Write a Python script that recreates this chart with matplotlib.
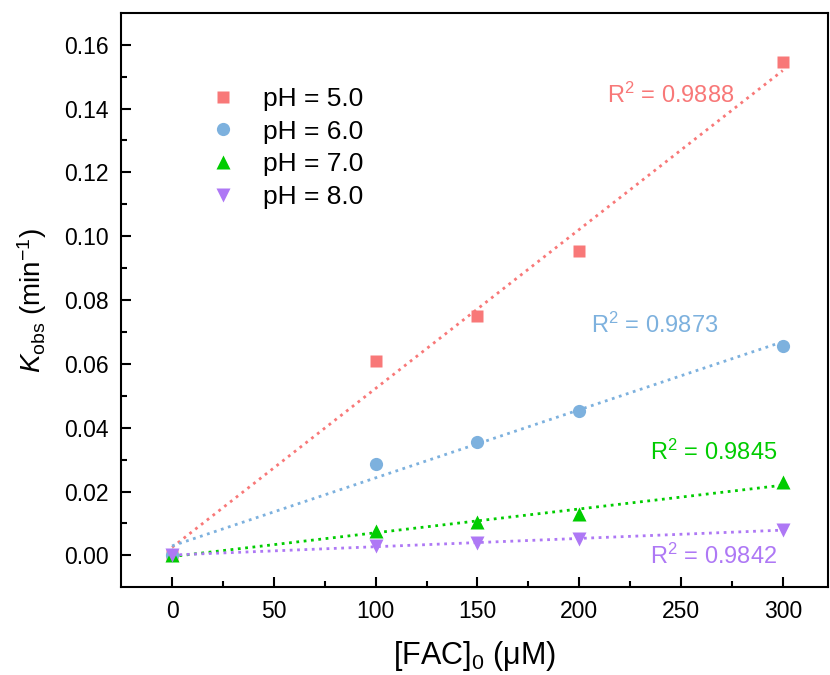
import numpy as np
import matplotlib
matplotlib.use('Agg')
import matplotlib.pyplot as plt

plt.rcParams['font.family'] = ['Liberation Sans', 'DejaVu Sans']
plt.rcParams['mathtext.fontset'] = 'custom'
plt.rcParams['mathtext.rm'] = 'Liberation Sans'
plt.rcParams['mathtext.it'] = 'Liberation Sans:italic'

# data
fac = [0, 100, 150, 200, 300]
k_ph5 = [0.0, 0.061, 0.075, 0.0955, 0.1545]
k_ph6 = [0.0, 0.0285, 0.0355, 0.0452, 0.0655]
k_ph7 = [0.0, 0.0075, 0.0105, 0.013, 0.023]
k_ph8 = [0.0, 0.003, 0.004, 0.005, 0.008]
labels = ['pH = 5.0', 'pH = 6.0', 'pH = 7.0', 'pH = 8.0']
r2 = ['0.9888', '0.9873', '0.9845', '0.9842']

colors = ['#F87878', '#7DB1DE', '#00CC00', '#AE78F5']
markers = ['s', 'o', '^', 'v']
sizes = [8, 9.5, 9.5, 9.5]
r2_pos = [(245, 0.1443), (237, 0.0722), (266, 0.0323), (266, -0.0003)]

fig = plt.figure(figsize=(8.3, 6.75), dpi=100)
ax = fig.add_axes([0.146, 0.130, 0.851, 0.851])

series = [k_ph5, k_ph6, k_ph7, k_ph8]
xs = np.array(fac, dtype=float)
for i, ys in enumerate(series):
    # linear fit, drawn dotted from 0 to 300
    slope, icpt = np.polyfit(xs, ys, 1)
    xf = np.array([0, 300])
    ax.plot(xf, slope * xf + icpt, ':', color=colors[i], lw=2, zorder=1)
    ax.plot(fac, ys, linestyle='none', marker=markers[i], color=colors[i],
            ms=sizes[i], mec='none', label=labels[i], zorder=2)
    ax.text(r2_pos[i][0], r2_pos[i][1], 'R$^2$ = ' + r2[i], color=colors[i],
            fontsize=17, ha='center', va='center')

ax.set_xlim(-25, 322)
ax.set_ylim(-0.01, 0.17)
ax.set_xticks([0, 50, 100, 150, 200, 250, 300])
ax.set_xticks([25, 75, 125, 175, 225, 275], minor=True)
ax.set_yticks(np.arange(0, 0.161, 0.02))
ax.set_yticks(np.arange(0.01, 0.17, 0.02), minor=True)
ax.set_yticklabels(['%.2f' % v for v in np.arange(0, 0.161, 0.02)])
ax.tick_params(which='major', direction='in', length=7.5, width=1.5,
               labelsize=16.5, top=False, right=False, pad=9)
ax.tick_params(which='minor', direction='in', length=4, width=1.5,
               top=False, right=False)
for sp in ax.spines.values():
    sp.set_linewidth(1.5)

ax.set_xlabel('[FAC]$_0$ (μM)', fontsize=22, labelpad=12)
ax.set_ylabel(r'$\mathit{K}_{\mathrm{obs}}$ (min$^{-1}$)', fontsize=20, labelpad=11)

ax.legend(loc='upper left', bbox_to_anchor=(0.1, 0.903), frameon=False,
          fontsize=19, handletextpad=1.0, labelspacing=0.33, handlelength=1.0,
          borderpad=0.2)

fig.savefig('out.png', dpi=100)
